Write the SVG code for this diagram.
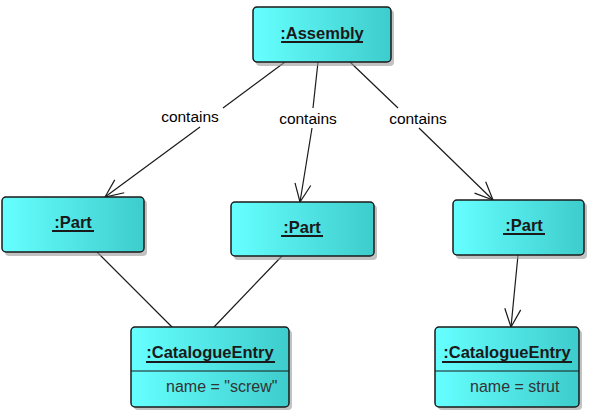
<svg xmlns="http://www.w3.org/2000/svg" width="602" height="411" viewBox="0 0 602 411">
<style>
.box{fill:url(#g);stroke:#1a1a1a;stroke-width:1.5}
.sh{fill:#9a9a9a;opacity:0.6}
.t{font-family:"Liberation Sans",Arial,sans-serif;font-size:16.5px;font-weight:bold;fill:#1a1a1a;text-anchor:middle}
.u{stroke:#1a1a1a;stroke-width:2}
.a{font-family:"Liberation Sans",Arial,sans-serif;font-size:16px;fill:#333;}
.l{font-family:"Liberation Sans",Arial,sans-serif;font-size:15.5px;fill:#000;text-anchor:middle}
.e{stroke:#1a1a1a;stroke-width:1.2;fill:none}
</style>
<defs>
<linearGradient id="g" x1="0" y1="0" x2="1" y2="0">
<stop offset="0" stop-color="#66ffff"/>
<stop offset="1" stop-color="#3ecccc"/>
</linearGradient>
<marker id="arr" markerWidth="24" markerHeight="24" refX="19" refY="9" orient="auto" markerUnits="userSpaceOnUse">
<path d="M1,1 L19,9 L1,17" fill="none" stroke="#1a1a1a" stroke-width="1.2"/>
</marker>
</defs>
<g id="connectors">
<line class="e" x1="285" y1="62" x2="223" y2="108"/>
<line class="e" x1="200" y1="127" x2="105" y2="197" marker-end="url(#arr)"/>
<line class="e" x1="318" y1="62" x2="313" y2="108"/>
<line class="e" x1="312" y1="128" x2="300" y2="202" marker-end="url(#arr)"/>
<line class="e" x1="350" y1="62" x2="398" y2="108"/>
<line class="e" x1="419" y1="128" x2="493" y2="200" marker-end="url(#arr)"/>
<line class="e" x1="97" y1="252" x2="172" y2="327"/>
<line class="e" x1="282" y1="256" x2="214" y2="327"/>
<line class="e" x1="518" y1="255" x2="511" y2="327" marker-end="url(#arr)"/>
<text class="l" x="190" y="122">contains</text>
<text class="l" x="308" y="124">contains</text>
<text class="l" x="418" y="124">contains</text>
</g>
<g id="assembly">
<rect class="sh" x="256" y="10" width="138" height="56" rx="4"/>
<rect class="box" x="253" y="7" width="138" height="55" rx="4"/>
<text class="t" x="322" y="39">:Assembly</text>
<line class="u" x1="281" y1="42" x2="363" y2="42"/>
</g>
<g id="part1">
<rect class="sh" x="5" y="200" width="142" height="56" rx="4"/>
<rect class="box" x="2" y="197" width="142" height="55" rx="4"/>
<text class="t" x="73" y="228">:Part</text>
<line class="u" x1="52" y1="231" x2="94" y2="231"/>
</g>
<g id="part2">
<rect class="sh" x="234" y="205" width="143" height="55" rx="4"/>
<rect class="box" x="231" y="202" width="143" height="54" rx="4"/>
<text class="t" x="302" y="233">:Part</text>
<line class="u" x1="281" y1="236" x2="323" y2="236"/>
</g>
<g id="part3">
<rect class="sh" x="456" y="203" width="131" height="56" rx="4"/>
<rect class="box" x="453" y="200" width="131" height="55" rx="4"/>
<text class="t" x="524" y="231">:Part</text>
<line class="u" x1="503" y1="234" x2="545" y2="234"/>
</g>
<g id="catalogue1">
<rect class="sh" x="134" y="330" width="158" height="80" rx="4"/>
<rect class="box" x="131" y="327" width="158" height="80" rx="4"/>
<line class="e" x1="131" y1="371" x2="289" y2="371"/>
<text class="t" x="210" y="358">:CatalogueEntry</text>
<line class="u" x1="146" y1="362" x2="275" y2="362"/>
<text class="a" x="166" y="392">name = "screw"</text>
</g>
<g id="catalogue2">
<rect class="sh" x="438" y="330" width="144" height="80" rx="4"/>
<rect class="box" x="435" y="327" width="144" height="80" rx="4"/>
<line class="e" x1="435" y1="371" x2="579" y2="371"/>
<text class="t" x="507" y="358">:CatalogueEntry</text>
<line class="u" x1="442" y1="362" x2="572" y2="362"/>
<text class="a" x="470" y="392">name = strut</text>
</g>
</svg>
